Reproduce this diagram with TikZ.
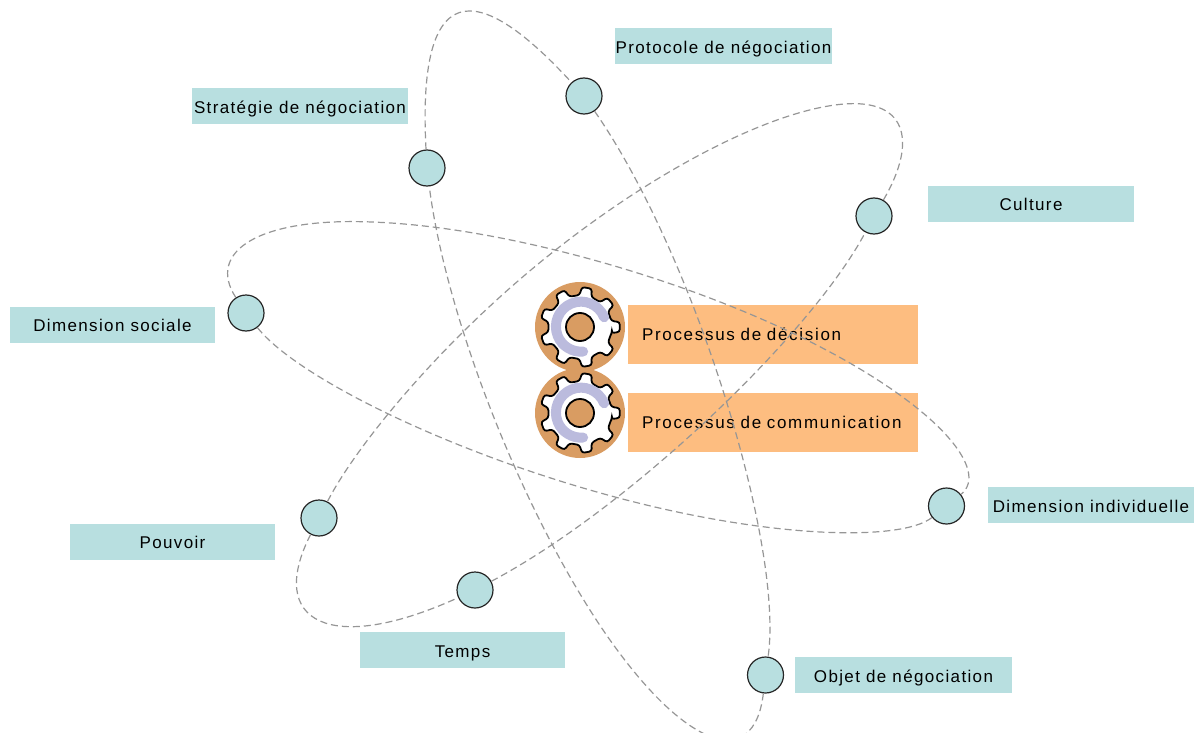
\documentclass[tikz,border=0pt]{standalone}
\usepackage{fontspec}
\setmainfont{Liberation Sans}[LetterSpace=8]
\definecolor{labelteal}{HTML}{B8DFE0}
\definecolor{procorange}{HTML}{FDBD80}
\definecolor{gearbrown}{HTML}{D99C62}
\definecolor{gearswoosh}{HTML}{BBBBDD}
\definecolor{orbitgray}{HTML}{969696}
\tikzset{
  labelbox/.style={fill=labelteal,minimum height=36pt,inner sep=0pt,text height=14pt,text depth=0pt,font=\fontsize{17}{18}\selectfont},
  procbox/.style={fill=procorange,minimum height=59pt,text width=262pt,inner xsep=14pt,inner ysep=0pt,align=left,font=\fontsize{17}{18}\selectfont\addfontfeature{LetterSpace=10}},
  planet/.style={circle,draw=black!85,line width=1.2pt,fill=labelteal,minimum size=36pt,inner sep=0pt},
  orbit/.style={draw=orbitgray,line width=1.2pt,dash pattern=on 7pt off 4pt},
  pics/gearicon/.style={code={
    \begin{scope}[x=1pt,y=1pt]
      \fill[gearbrown] (0,0) circle (45);
      \draw[fill=white,line width=1.8pt,rounded corners=2.5pt]
        (-10:32) \foreach \a in {0,40,...,320} {
          -- (\a-11:32) -- (\a-7:40) -- (\a+7:40) -- (\a+11:32)
        } -- cycle;
      \draw[gearswoosh,line width=10pt,line cap=round] (22:26) arc[start angle=22,end angle=275,radius=25];
      \fill[gearbrown] (0,0) circle (14);
      \draw[line width=1.8pt] (0,0) circle (14);
    \end{scope}
  }}
}
\begin{document}
\begin{tikzpicture}[x=1pt,y=-1pt]
      \useasboundingbox (0,0) rectangle (1199,733);
      \node[labelbox,minimum width=217pt] (protocole) at (723.5,46.5) {Protocole de négociation};
      \node[labelbox,minimum width=216pt] (strategie) at (300,106.5) {Stratégie de négociation};
      \node[labelbox,minimum width=206pt] (culture) at (1031,203.5) {Culture};
      \node[labelbox,minimum width=205pt] (sociale) at (112.5,324.5) {Dimension sociale};
      \node[labelbox,minimum width=206pt] (individuelle) at (1091,505) {Dimension individuelle};
      \node[labelbox,minimum width=205pt] (pouvoir) at (172.5,541.5) {Pouvoir};
      \node[labelbox,minimum width=205pt] (temps) at (462.5,650) {Temps};
      \node[labelbox,minimum width=217pt] (objet) at (903.5,675) {Objet de négociation};
      \node[procbox] (decision) at (773,334.5) {Processus de décision};
      \node[procbox] (communication) at (773,422) {Processus de communication};
      \pic (geardecision) at (580,327) {gearicon};
      \pic (gearcommunication) at (580,413) {gearicon};
      \node[planet] (pstrategie) at (427,168) {};
      \node[planet] (pprotocole) at (584,96) {};
      \node[planet] (pobjet) at (765.5,675) {};
      \node[planet] (psociale) at (246,313) {};
      \node[planet] (pindividuelle) at (946.5,506) {};
      \node[planet] (pculture) at (874,216) {};
      \node[planet] (ppouvoir) at (319,518) {};
      \node[planet] (ptemps) at (475,590) {};
      \begin{scope}[orbit]
        \draw (pstrategie) .. controls (415,-58) and (505,10) .. (pprotocole);
        \draw (pprotocole) .. controls (694,254) and (784,545) .. (pobjet);
        \draw (pobjet) .. controls (754,773) and (684,750) .. (601,627)
          .. controls (518,503) and (445,312) .. (pstrategie);
        \draw (psociale) .. controls (206,252) and (258,216) .. (378.4,222.3)
          .. controls (504.3,228) and (682,277.2) .. (810.7,342)
          .. controls (939.4,406.8) and (990,471) .. (pindividuelle);
        \draw (pindividuelle) .. controls (901,542) and (766,539) .. (604,494)
          .. controls (442,449) and (295,375.5) .. (psociale);
        \draw (pculture) .. controls (918,141) and (908,95) .. (835,105)
          .. controls (767.5,114) and (660.5,167) .. (553,252)
          .. controls (445.5,337) and (357,444) .. (ppouvoir);
        \draw (ppouvoir) .. controls (266,622) and (330,656) .. (ptemps);
        \draw (ptemps) .. controls (631,507) and (812,333) .. (pculture);
      \end{scope}
    \end{tikzpicture}
\end{document}
